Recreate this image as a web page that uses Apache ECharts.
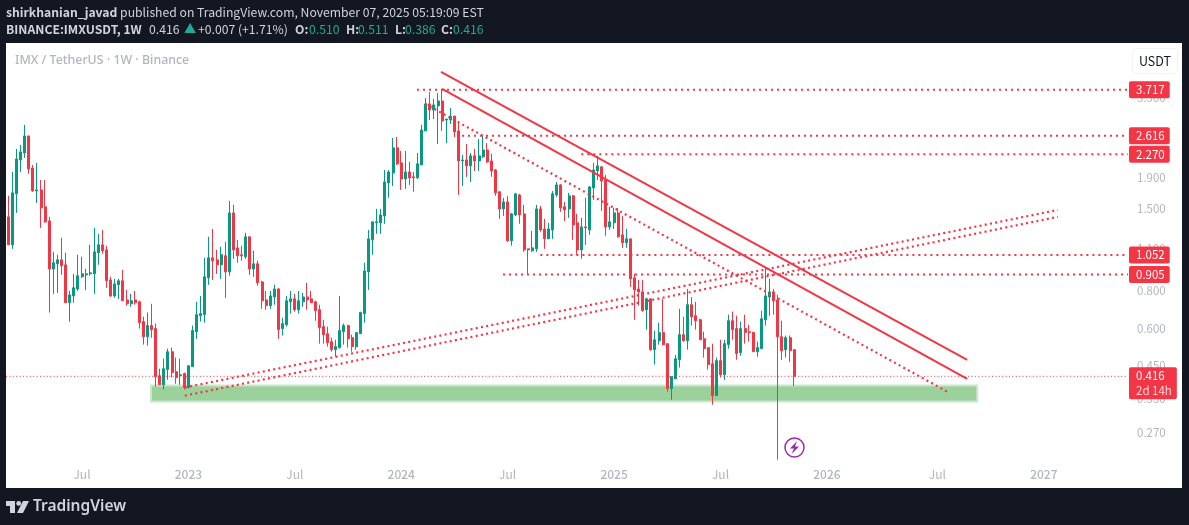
<!DOCTYPE html>
<html lang="en">
<head>
<meta charset="UTF-8">
<title>IMXUSDT 1W</title>
<script src="https://cdn.jsdelivr.net/npm/echarts@6/dist/echarts.min.js"></script>
<style>
    html, body { margin: 0; padding: 0; background: #131722; }
    #main { width: 1189px; height: 525px; }
</style>
</head>
<body>
<div id="main"></div>
<script>
// weekly candles
var firstWeek = '2022-02-28';
var opens = [1.407,1.136,1.677,2.173,2.293,2.611,2.045,1.715,1.728,1.519,
    1.364,.945,.983,1.013,.975,.73,.769,.811,.89,.903,
    .91,.91,1.069,1.136,1.093,.869,.769,.837,.863,.746,
    .724,.746,.735,.632,.563,.613,.599,.418,.39,.438,
    .502,.431,.418,.425,.382,.448,.585,.661,.666,.883,
    1.029,1.013,.975,1.045,.924,1.45,1.11,1.053,1.037,1.208,
    .945,.983,.856,.746,.714,.763,.811,.599,.617,.735,
    .752,.692,.735,.763,.752,.735,.692,.608,.576,.542,
    .51,.518,.585,.613,.559,.522,.576,.672,.924,1.18,
    1.344,1.344,1.417,1.823,1.968,2.383,2.125,1.88,1.983,1.91,
    1.895,2.093,2.712,3.334,3.182,3.284,3.41,2.948,2.948,3.04,
    2.712,2.157,2.173,2.077,2.242,2.157,2.225,2.345,2.157,2.013,
    1.703,1.495,1.577,1.171,1.428,1.664,1.439,1.102,1.085,1.102,
    1.495,1.283,1.189,1.273,1.664,1.796,1.519,1.495,1.652,1.344,
    1.093,1.303,1.273,1.754,1.998,2.061,1.865,1.303,1.344,1.45,
    1.226,1.154,1.189,.883,.811,.793,.692,.752,.51,.546,
    .581,.534,.379,.408,.472,.572,.546,.719,.661,.641,
    .554,.518,.458,.359,.469,.421,.53,.636,.599,.499,
    .599,.585,.581,.502,.514,.641,.763,.793,.746,.563,
    .51,.559,.51];
var highs = [1.652,1.983,2.364,2.438,2.84,2.611,2.093,2.125,1.865,1.865,
    1.407,1.077,1.053,1.199,1.069,.799,.91,1.053,1.037,.945,
    1.136,1.293,1.236,1.273,1.128,.89,.876,.876,.938,.805,
    .781,.799,.741,.656,.677,.724,.622,.441,.476,.514,
    .518,.48,.476,.428,.451,.613,.735,.769,1.029,1.208,
    1.283,1.093,1.119,1.163,1.589,1.542,1.18,1.128,1.245,1.208,
    1.085,1.006,.863,.799,.799,.837,.818,.651,.769,.799,
    .781,.799,.787,.85,.799,.741,.719,.641,.608,.559,
    .55,.769,.622,.617,.572,.581,.682,.991,1.273,1.354,
    1.495,1.495,2.013,2.013,2.571,2.591,2.328,2.328,2.141,1.983,
    2.293,2.84,3.489,3.653,3.462,3.626,3.74,2.971,3.233,3.04,
    2.926,2.259,2.455,2.293,2.364,2.551,2.611,2.474,2.276,2.029,
    1.715,1.627,1.652,1.45,1.69,1.677,1.542,1.102,1.264,1.542,
    1.53,1.385,1.344,1.715,1.837,1.809,1.577,1.69,1.664,1.439,
    1.396,1.627,1.781,2.125,2.242,2.077,1.938,1.519,1.507,1.507,
    1.417,1.283,1.189,.91,.869,.869,.758,.752,.59,.627,
    .752,.534,.415,.49,.697,.656,.811,.763,.735,.646,
    .585,.518,.534,.48,.55,.55,.666,.682,.661,.632,
    .666,.617,.585,.542,.687,.96,.876,.811,.775,.636,
    .568,.568,.511];
var lows = [1.136,1.102,1.45,1.983,2.207,1.954,1.703,1.565,1.293,1.344,
    .677,.781,.787,.903,.73,.632,.73,.799,.883,.805,
    .897,.781,.975,1.061,.818,.763,.758,.752,.741,.714,
    .708,.719,.599,.53,.526,.559,.385,.39,.376,.405,
    .412,.393,.39,.376,.379,.448,.554,.632,.627,.837,
    .869,.91,.876,.758,.897,1.021,.991,1.006,1.021,.903,
    .89,.831,.697,.692,.697,.719,.554,.568,.608,.672,
    .682,.672,.708,.692,.73,.636,.534,.534,.522,.502,
    .483,.514,.53,.518,.502,.51,.576,.627,.805,1.053,
    1.236,1.236,1.334,1.627,1.781,2.093,1.728,1.742,1.796,1.703,
    1.88,2.093,2.712,2.948,2.971,2.455,2.712,2.474,2.86,2.591,
    1.664,1.781,1.91,1.837,1.998,1.998,2.207,2.125,1.91,1.652,
    1.385,1.417,1.163,1.128,1.417,1.334,1.077,.903,1.077,1.077,
    1.255,1.102,1.189,1.189,1.639,1.461,1.364,1.396,1.18,1.053,
    1.021,1.136,1.226,1.601,1.865,1.472,1.217,1.273,1.283,1.199,
    1.11,1.11,.824,.641,.714,.682,.594,.506,.455,.53,
    .526,.37,.348,.408,.445,.542,.51,.613,.594,.55,
    .48,.438,.335,.359,.412,.405,.514,.55,.472,.487,
    .534,.542,.502,.483,.514,.613,.661,.666,.22,.472,
    .48,.465,.386];
var closes = [1.136,1.69,2.19,2.31,2.611,2.029,1.715,1.728,1.507,1.354,
    .945,.991,1.013,.968,.73,.775,.818,.897,.91,.91,
    .917,1.077,1.136,1.085,.863,.769,.843,.863,.741,.724,
    .741,.73,.627,.563,.613,.594,.415,.39,.441,.502,
    .428,.412,.421,.382,.451,.59,.666,.672,.89,1.029,
    1.006,.975,1.053,.924,1.45,1.093,1.045,1.045,1.208,.945,
    .983,.85,.741,.714,.769,.811,.594,.622,.741,.752,
    .692,.741,.763,.746,.73,.687,.603,.572,.538,.51,
    .522,.59,.613,.554,.522,.581,.677,.931,1.189,1.354,
    1.354,1.428,1.837,1.983,2.383,2.109,1.88,1.983,1.895,1.895,
    2.109,2.732,3.334,3.182,3.309,3.41,2.926,2.971,3.04,2.692,
    2.157,2.173,2.077,2.242,2.157,2.242,2.345,2.141,1.998,1.69,
    1.495,1.577,1.171,1.439,1.677,1.428,1.093,1.093,1.11,1.495,
    1.273,1.189,1.283,1.677,1.796,1.507,1.483,1.652,1.323,1.093,
    1.303,1.293,1.768,2.013,2.077,1.851,1.303,1.354,1.45,1.208,
    1.154,1.189,.876,.805,.793,.687,.752,.51,.55,.581,
    .53,.379,.415,.476,.572,.546,.719,.656,.636,.55,
    .514,.455,.359,.469,.421,.534,.636,.594,.495,.599,
    .581,.581,.502,.518,.646,.769,.793,.741,.563,.506,
    .559,.506,.416];

// horizontal levels and where each one starts
var levelPrices = [3.717, 2.616, 2.27, 1.052, 0.905];
var levelStarts = ['2024-01-28', '2024-04-14', '2024-11-04', '2024-08-26', '2024-06-23'];
var lastPrice = 0.416;

// trend lines [start date, start price, end date, end price]
var solidLines = [
    ['2024-03-09', 4.255, '2026-08-26', 0.472],
    ['2024-03-11', 3.737, '2026-08-26', 0.408]
];
var dottedLines = [
    ['2024-02-11', 3.333, '2026-07-25', 0.368],
    ['2022-12-27', 0.382, '2027-01-28', 1.483],
    ['2022-12-27', 0.359, '2027-01-28', 1.407]
];
var zoneDates = ['2022-10-30', '2026-09-12'];
var zonePrices = [0.388, 0.343];

// axis ticks
var priceTicks = [3.5, 1.9, 1.5, 1.1, 0.8, 0.6, 0.45, 0.35, 0.27];
var timeTicks = ['2022-07-04', '2023-01-02', '2023-07-03', '2024-01-01', '2024-07-01', '2024-12-30', '2025-06-30', '2025-12-29', '2026-07-06', '2027-01-04'];
var timeTickLabels = ['Jul', '2023', 'Jul', '2024', 'Jul', '2025', 'Jul', '2026', 'Jul', '2027'];

// second header line, pieces with their colour class
var quoteBits = [
    ['BINANCE:IMXUSDT, 1W', 6, 'b'], ['0.416', 149, 'n'], ['▲', 184, 'g'], ['+0.007 (+1.71%)', 198, 'n'],
    ['O:', 295, 'b'], ['0.510', 309, 'g'], ['H:', 346, 'b'], ['0.511', 358, 'g'],
    ['L:', 395, 'b'], ['0.386', 405, 'g'], ['C:', 441, 'b'], ['0.416', 453, 'g']
];

var xMin = '2022-02-24', xMax = '2027-05-28';
var red = '#F23645', green = '#089981';
var font = 'Noto Sans CJK SC';

function ms(d) { return +new Date(d + 'T00:00:00Z'); }

var candles = [];
for (var i = 0; i < opens.length; i++) {
    candles.push([ms(firstWeek) + i * 7 * 864e5, opens[i], closes[i], lows[i], highs[i]]);
}
var tickTimes = timeTicks.map(ms);

var series = [{
    type: 'candlestick',
    barWidth: 2.5, // snaps to 2 + 1px border, every body 3px wide
    encode: { x: 0, y: [1, 2, 3, 4] },
    data: candles,
    itemStyle: { color: green, color0: red, borderColor: green, borderColor0: red, borderWidth: 1 },
    markArea: {
        silent: true,
        itemStyle: { color: '#9bd19b', borderColor: '#cbe6cb', borderWidth: 2 },
        data: [[
            { xAxis: ms(zoneDates[0]), yAxis: zonePrices[0] },
            { xAxis: ms(zoneDates[1]), yAxis: zonePrices[1] }
        ]]
    }
}];

function addLine(l, style) {
    series.push({
        type: 'line', symbol: 'none', silent: true, z: 5,
        data: [[ms(l[0]), l[1]], [ms(l[2]), l[3]]],
        lineStyle: style
    });
}
solidLines.forEach(function (l) { addLine(l, { color: red, width: 2 }); });
dottedLines.forEach(function (l) { addLine(l, { color: red, width: 2.2, type: [2, 3.3] }); });

levelPrices.forEach(function (p, i) {
    series.push({
        type: 'line', symbol: 'none', silent: true, z: 5,
        data: [[ms(levelStarts[i]), p], [ms(xMax), p]],
        lineStyle: { color: red, width: 2, type: [2, 4] },
        endLabel: {
            show: true, distance: 1, color: '#fff', fontFamily: font, fontSize: 11.5, lineHeight: 17,
            backgroundColor: red, borderRadius: 2, padding: [0, 5, 0, 7],
            formatter: function () { return p.toFixed(3); }
        }
    });
});
series.push({
    type: 'line', symbol: 'none', silent: true, z: 4,
    data: [[ms(xMin), lastPrice], [ms(xMax), lastPrice]],
    lineStyle: { color: red, width: 1, type: [1, 2.4] },
    endLabel: {
        show: true, distance: 1, offset: [0, 7], backgroundColor: red, borderRadius: 2, padding: [1, 5, 1, 7],
        formatter: function () { return '{a|' + lastPrice.toFixed(3) + '}\n{b|2d 14h}'; },
        rich: {
            a: { color: '#fff', fontFamily: font, fontSize: 11.5, lineHeight: 15 },
            b: { color: '#fbd5d9', fontFamily: font, fontSize: 11.5, lineHeight: 15 }
        }
    }
});

var graphic = [
    { type: 'rect', z: -10, silent: true, shape: { x: 6, y: 43, width: 1176, height: 445 }, style: { fill: '#fff' } },
    { type: 'text', x: 6, y: 12.5, z: 20, style: {
        text: '{b|shirkhanian_javad} published on TradingView.com, November 07, 2025 05:19:09 EST',
        fill: '#d1d4dc', font: '12.2px "' + font + '"', verticalAlign: 'middle',
        rich: { b: { fontWeight: 'bold', fontSize: 12.2, fontFamily: font, fill: '#d1d4dc' } }
    } },
    { type: 'text', x: 15, y: 60, z: 20, style: { text: 'IMX / TetherUS · 1W · Binance', fill: '#b2b5be', font: '500 12.4px "Noto Sans"', verticalAlign: 'middle' } },
    { type: 'rect', z: 20, shape: { x: 1132.5, y: 48.5, width: 45, height: 25, r: 4 }, style: { fill: '#fff', stroke: '#f0f3fa', lineWidth: 1 } },
    { type: 'text', x: 1155, y: 61, z: 21, style: { text: 'USDT', fill: '#131722', font: '12.5px "' + font + '"', align: 'center', verticalAlign: 'middle' } },
    // event marker
    { type: 'circle', z: 20, shape: { cx: 794.5, cy: 447.5, r: 9.5 }, style: { fill: '#fff', stroke: '#9c27b0', lineWidth: 1.5 } },
    { type: 'polygon', z: 21, shape: { points: [[797, 441], [790, 448.5], [794, 448.5], [791.5, 454], [799, 446.5], [795, 446.5]] }, style: { fill: '#9c27b0' } },
    // TradingView logo
    { type: 'polygon', z: 20, shape: { points: [[6, 501], [15, 501], [15, 513], [10, 513], [10, 506], [6, 506]] }, style: { fill: '#d1d4dc' } },
    { type: 'circle', z: 20, shape: { cx: 18.7, cy: 503.4, r: 2.4 }, style: { fill: '#d1d4dc' } },
    { type: 'polygon', z: 20, shape: { points: [[23, 501], [29, 501], [23, 513], [17, 513]] }, style: { fill: '#d1d4dc' } },
    { type: 'text', x: 33, y: 507, z: 20, style: { text: 'TradingView', fill: '#d1d4dc', font: '600 15.5px "Noto Sans"', verticalAlign: 'middle' } }
];
quoteBits.forEach(function (q) {
    graphic.push({ type: 'text', x: q[1], y: 29.5, z: 20, style: {
        text: q[0],
        fill: q[2] === 'g' ? '#22ab94' : '#d1d4dc',
        font: (q[2] === 'b' ? 'bold ' : '') + '12.2px "' + font + '"',
        verticalAlign: 'middle'
    } });
});

var option = {
    animation: false,
    backgroundColor: '#131722',
    graphic: graphic,
    grid: { left: 6, right: 61, top: 43, bottom: 65 },
    xAxis: {
        type: 'value',
        min: ms(xMin),
        max: ms(xMax),
        axisLine: { show: false },
        axisTick: { show: false },
        splitLine: { show: false },
        axisLabel: {
            customValues: tickTimes,
            margin: 8,
            hideOverlap: false,
            color: '#b2b5be',
            fontFamily: font,
            fontSize: 12,
            formatter: function (v) {
                var s = timeTickLabels[tickTimes.indexOf(v)];
                return s === 'Jul' ? s : '{y|' + s + '}';
            },
            rich: { y: { color: '#b2b5be', fontFamily: font, fontSize: 12, fontWeight: 500 } }
        }
    },
    yAxis: {
        type: 'log',
        position: 'right',
        min: 0.2195,
        max: 5.31,
        axisLine: { show: false },
        axisTick: { show: false },
        splitLine: { show: false },
        axisLabel: {
            customValues: priceTicks,
            margin: 9,
            color: '#b2b5be',
            fontFamily: font,
            fontSize: 11.5,
            formatter: function (v) { return (+v).toFixed(3); }
        }
    },
    series: series
};

var myChart = echarts.init(document.getElementById('main'));
myChart.setOption(option);
</script>
</body>
</html>
